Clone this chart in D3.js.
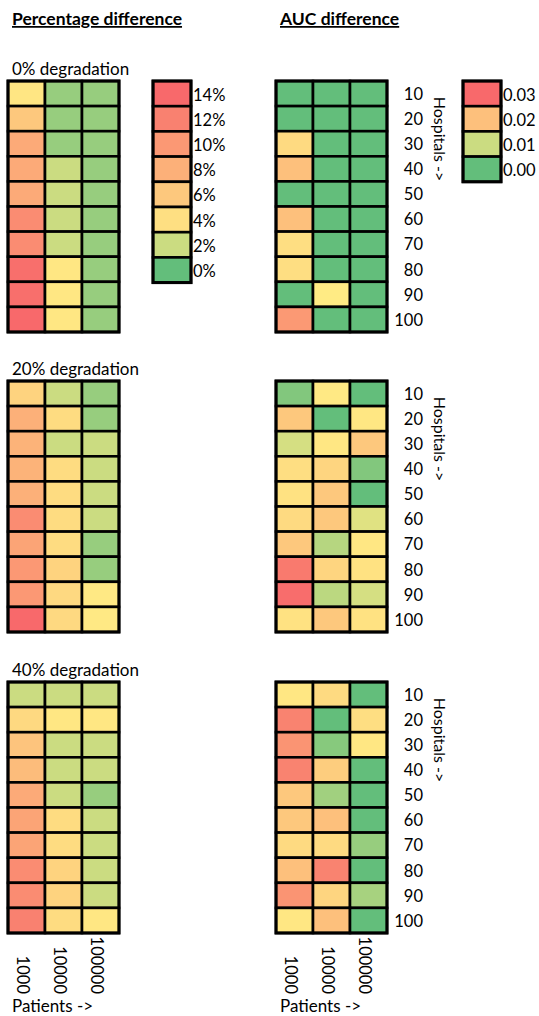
<!DOCTYPE html>
<html>
<head>
<meta charset="utf-8">
<script src="https://cdn.jsdelivr.net/npm/d3@7"></script>
<style>
  html, body { margin: 0; padding: 0; background: #fff; }
  svg { display: block; font-family: Lato, "Open Sans", sans-serif; }
</style>
</head>
<body>
<svg id="chart" width="539" height="1016"></svg>
<script>
// Axes categories
const hospitals = [10, 20, 30, 40, 50, 60, 70, 80, 90, 100];
const patients = [1000, 10000, 100000];
const degradations = ["0% degradation", "20% degradation", "40% degradation"];

// Percentage difference (%), rows = hospitals, columns = patients
const pct0 = [
  [3.4, 1.0, 1.0], [6.0, 1.0, 1.0], [8.5, 1.0, 1.0], [8.5, 2.0, 1.0], [8.5, 2.0, 1.0],
  [11.0, 2.0, 1.0], [11.0, 2.0, 1.0], [13.5, 3.3, 1.0], [13.5, 3.3, 1.0], [14.0, 3.3, 1.0]
];
const pct20 = [
  [5.0, 2.0, 1.0], [8.0, 4.3, 1.0], [7.7, 2.0, 2.0], [7.7, 4.3, 2.0], [8.0, 4.3, 2.0],
  [11.0, 4.3, 2.0], [9.0, 4.3, 1.0], [10.0, 5.0, 1.0], [10.0, 4.5, 3.2], [14.0, 4.5, 3.2]
];
const pct40 = [
  [2.0, 2.0, 2.0], [4.5, 3.3, 3.3], [6.3, 2.0, 2.0], [7.0, 2.0, 2.0], [8.5, 2.0, 1.0],
  [9.0, 4.3, 2.0], [9.0, 4.3, 2.0], [11.0, 5.0, 2.0], [11.0, 5.0, 2.0], [12.0, 4.3, 3.3]
];

// AUC difference, rows = hospitals, columns = patients
const auc0 = [
  [0, 0, 0], [0, 0, 0], [0.017, 0, 0], [0.020, 0, 0], [0, 0, 0],
  [0.020, 0, 0], [0.0165, 0, 0], [0.0165, 0, 0], [0, 0.015, 0], [0.0245, 0, 0]
];
const auc20 = [
  [0.003, 0.0152, 0], [0.019, 0, 0.0155], [0.011, 0.0155, 0.019], [0.0165, 0.0175, 0.003], [0.016, 0.019, 0],
  [0.017, 0.019, 0.012], [0.019, 0.008, 0.0155], [0.028, 0.0175, 0.016], [0.0295, 0.0085, 0.011], [0.016, 0.019, 0.016]
];
const auc40 = [
  [0.0155, 0.017, 0], [0.027, 0, 0.0165], [0.025, 0.0035, 0.0155], [0.027, 0.0185, 0], [0.019, 0.006, 0],
  [0.019, 0.020, 0], [0.017, 0.017, 0.005], [0.020, 0.027, 0], [0.025, 0.0175, 0.0065], [0.0155, 0.020, 0]
];

// Legend keys
const pctLegend = [14, 12, 10, 8, 6, 4, 2, 0];
const aucLegend = [0.03, 0.02, 0.01, 0.00];

const GREEN = "#63BE7B", YELLOW = "#FFEB84", RED = "#F8696B";
const pctColor = d3.scaleLinear().domain([0, 3, 14]).range([GREEN, YELLOW, RED]).interpolate(d3.interpolateRgb);
const aucColor = d3.scaleLinear().domain([0, 0.015, 0.03]).range([GREEN, YELLOW, RED]).interpolate(d3.interpolateRgb);

const svg = d3.select("#chart");
const FONT = 16;

const gridW = 111, gridH = 251;
const leftX = 8, rightX = 276;
const tops = [81, 381, 682];

const x = d3.scaleBand().domain(patients).range([0, gridW]);
const y = d3.scaleBand().domain(hospitals).range([0, gridH]);

function drawGrid(g, data, color) {
  const cells = [];
  data.forEach((row, i) => row.forEach((v, j) => cells.push({ h: hospitals[i], p: patients[j], v })));
  g.selectAll("rect.cell").data(cells).join("rect")
    .attr("class", "cell")
    .attr("x", d => x(d.p))
    .attr("y", d => y(d.h))
    .attr("width", x.bandwidth())
    .attr("height", y.bandwidth())
    .attr("fill", d => color(d.v))
    .attr("stroke", "#000")
    .attr("stroke-width", 2.6);
  g.append("rect")
    .attr("width", gridW).attr("height", gridH)
    .attr("fill", "none").attr("stroke", "#000").attr("stroke-width", 3);
}

// Section titles
svg.append("text").attr("x", 12).attr("y", 25)
  .attr("font-size", 17.5).attr("font-weight", "bold")
  .attr("text-decoration", "underline")
  .text("Percentage difference");
svg.append("text").attr("x", 280).attr("y", 25)
  .attr("font-size", 17.5).attr("font-weight", "bold")
  .attr("text-decoration", "underline")
  .text("AUC difference");

const pctSets = [pct0, pct20, pct40];
const aucSets = [auc0, auc20, auc40];

tops.forEach((top, k) => {
  svg.append("text").attr("x", 12).attr("y", top - 6)
    .attr("font-size", 17).text(degradations[k]);

  const gl = svg.append("g").attr("transform", `translate(${leftX},${top})`);
  drawGrid(gl, pctSets[k], pctColor);

  const gr = svg.append("g").attr("transform", `translate(${rightX},${top})`);
  drawGrid(gr, aucSets[k], aucColor);

  // Hospital count labels to the right of the AUC grid
  const yAxis = d3.axisRight(y).tickSize(0).tickPadding(0);
  const ax = svg.append("g").attr("transform", `translate(${rightX + 147},${top + 1})`).call(yAxis);
  ax.select(".domain").remove();
  ax.selectAll("text").attr("font-size", 16.5).attr("font-family", "Lato, sans-serif")
    .attr("fill", "#000").attr("text-anchor", "end").attr("x", 0);

  svg.append("text")
    .attr("transform", `translate(${rightX + 164},${top + 58}) rotate(90)`)
    .attr("text-anchor", "middle").attr("dominant-baseline", "central")
    .attr("font-size", FONT).text("Hospitals ->");
});

// Patient labels beneath the bottom grids
[leftX, rightX].forEach(gx => {
  const g = svg.append("g").attr("transform", `translate(${gx},994)`);
  g.selectAll("text").data(patients).join("text")
    .attr("transform", d => `translate(${x(d) + x.bandwidth() / 2 - 4},0) rotate(90)`)
    .attr("text-anchor", "end").attr("dominant-baseline", "central")
    .attr("font-size", 16.5).text(d => d);
  svg.append("text").attr("x", gx + 4).attr("y", 1011.5)
    .attr("font-size", 17).text("Patients ->");
});

// Legends
function drawLegend(lx, ly, values, color, fmt) {
  const ly2 = d3.scaleBand().domain(values).range([0, values.length * 25.2]);
  const g = svg.append("g").attr("transform", `translate(${lx},${ly})`);
  g.selectAll("rect").data(values).join("rect")
    .attr("x", 0).attr("y", d => ly2(d))
    .attr("width", 38).attr("height", ly2.bandwidth())
    .attr("fill", d => color(d)).attr("stroke", "#000").attr("stroke-width", 2.6);
  g.append("rect").attr("width", 38).attr("height", values.length * 25.2)
    .attr("fill", "none").attr("stroke", "#000").attr("stroke-width", 3);
  g.selectAll("text").data(values).join("text")
    .attr("x", 40).attr("y", d => ly2(d) + ly2.bandwidth() / 2 + 1)
    .attr("dominant-baseline", "central")
    .attr("font-size", 16.5).text(fmt);
}
drawLegend(153, 81, pctLegend, pctColor, d => d + "%");
drawLegend(463, 81, aucLegend, aucColor, d => d3.format(".2f")(d));
</script>
</body>
</html>
